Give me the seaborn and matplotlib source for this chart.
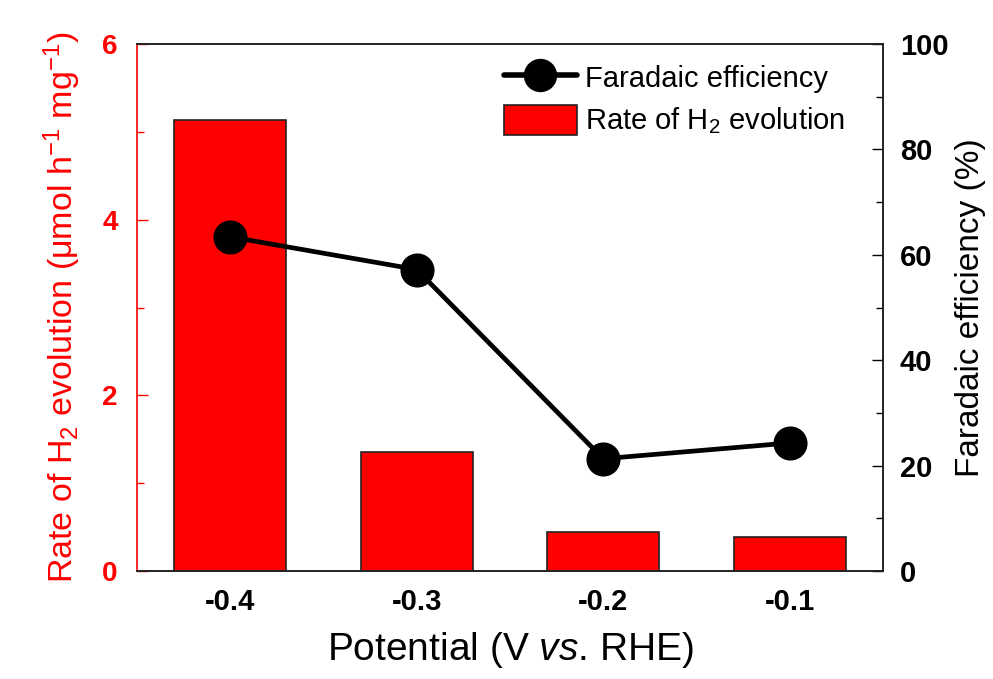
import matplotlib
matplotlib.use("Agg")
import matplotlib.pyplot as plt
import seaborn as sns
import pandas as pd
from matplotlib.ticker import MultipleLocator
from matplotlib.lines import Line2D
from matplotlib.patches import Patch

potential = ["-0.4", "-0.3", "-0.2", "-0.1"]
h2_rate = [5.14, 1.35, 0.44, 0.39]
faradaic_eff = [63.4, 57.2, 21.3, 24.3]

sns.set_theme(style="white")
plt.rcParams['font.family'] = ['Liberation Sans', 'DejaVu Sans']
plt.rcParams['mathtext.fontset'] = 'custom'
plt.rcParams['mathtext.rm'] = 'Liberation Sans'
plt.rcParams['mathtext.it'] = 'Liberation Sans:italic'
plt.rcParams['mathtext.bf'] = 'Liberation Sans:bold'
plt.rcParams['text.color'] = 'black'
plt.rcParams['axes.labelcolor'] = 'black'
plt.rcParams['xtick.color'] = 'black'
plt.rcParams['ytick.color'] = 'black'

df = pd.DataFrame({"Potential": potential, "Rate": h2_rate, "FE": faradaic_eff})

fig = plt.figure(figsize=(9.93, 6.79), dpi=100)
ax = fig.add_axes([137/993, 1 - 571/679, (883-137)/993, (571-44)/679])

sns.barplot(data=df, x="Potential", y="Rate", order=potential, color="#ff0000",
            saturation=1, width=0.6, edgecolor="#222222", linewidth=1.2, ax=ax)

ax2 = ax.twinx()
sns.pointplot(data=df, x="Potential", y="FE", order=potential, color="black",
              markers="o", markersize=22, linewidth=3.4, ax=ax2)

red = "#ff0000"
ax.set_xlim(-0.5, 3.5)
ax.set_ylim(0, 6)
ax2.set_ylim(0, 100)
ax.yaxis.set_major_locator(MultipleLocator(2))
ax.yaxis.set_minor_locator(MultipleLocator(1))
ax2.yaxis.set_major_locator(MultipleLocator(20))
ax2.yaxis.set_minor_locator(MultipleLocator(10))

ax.set_xticks(range(4))
ax.set_xticklabels(potential, fontsize=21, fontweight="bold")
ax.set_xticks([0.5, 1.5, 2.5], minor=True)
ax.tick_params(axis="x", which="major", length=0, pad=12, colors="black")
ax.tick_params(axis="x", which="minor", direction="in", length=6, width=1, color="#222222")

ax.tick_params(axis="y", which="both", direction="in", colors=red, labelsize=20, width=1)
ax.tick_params(axis="y", which="major", length=8, pad=14)
ax.tick_params(axis="y", which="minor", length=5)
for lab in ax.get_yticklabels():
    lab.set_fontweight("bold")

ax2.tick_params(axis="y", which="both", direction="in", colors="black", labelsize=21, width=1)
ax2.tick_params(axis="y", which="major", length=8, pad=12)
ax2.tick_params(axis="y", which="minor", length=5)
for lab in ax2.get_yticklabels():
    lab.set_fontweight("bold")

for a in (ax, ax2):
    for s in a.spines.values():
        s.set_linewidth(1.2)
        s.set_color("#222222")
    a.spines["left"].set_color(red)
ax2.spines["left"].set_visible(False)

ax.set_xlabel(r"Potential (V $\mathit{vs}$. RHE)", fontsize=28, color="black", labelpad=10)
ax.set_ylabel(r"Rate of H$_2$ evolution (μmol h$^{-1}$ mg$^{-1}$)", fontsize=24.5, color=red, labelpad=14)
ax2.set_ylabel("Faradaic efficiency (%)", fontsize=24, color="black", labelpad=5)

handles = [Line2D([0], [0], color="black", lw=4, marker="o", markersize=23),
           Patch(facecolor=red, edgecolor="#222222", linewidth=1.2)]
labels = ["Faradaic efficiency", r"Rate of H$_2$ evolution"]
ax2.legend(handles, labels, loc="upper right", bbox_to_anchor=(0.985, 1.015), frameon=False,
           fontsize=21, handlelength=2.5, handleheight=1.2, handletextpad=0.3, labelspacing=0.4)

fig.savefig("out.png", dpi=100)
